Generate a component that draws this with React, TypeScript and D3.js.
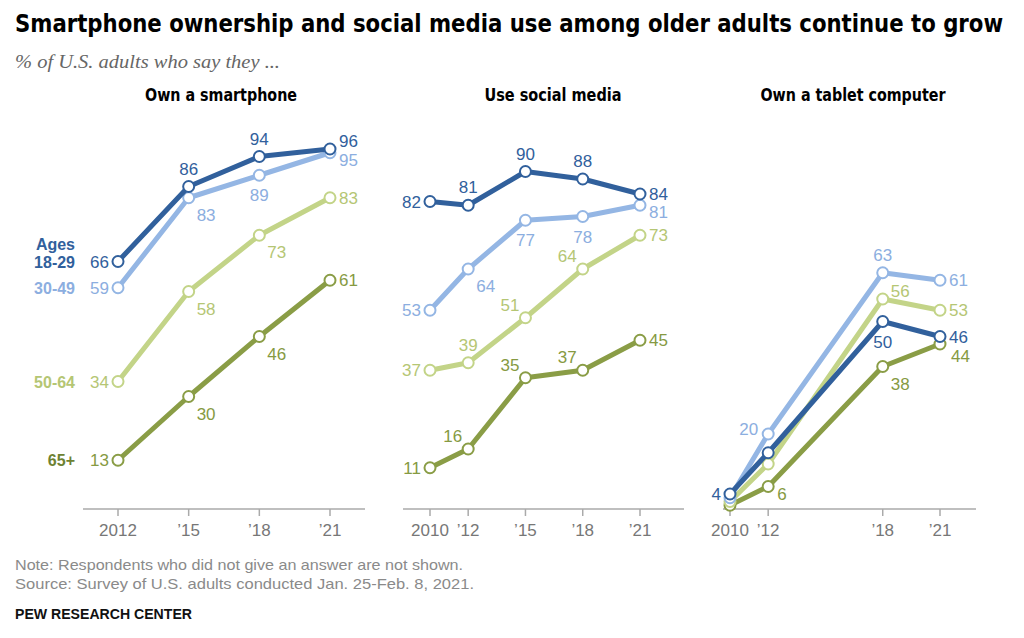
import React from 'react';
import * as d3 from 'd3';

// age groups, drawn bottom-to-top so 18-29 ends up on top
const ages = ['18-29', '30-49', '50-64', '65+'];
const lineColors = ['#31609c', '#94b6e4', '#c3d488', '#8a9d46'];
const labelColors = ['#31609c', '#8caee0', '#b5c674', '#869a42'];
const legendColors = ['#31609c', '#8caee0', '#b5c674', '#6e8233'];

const smartYears = [2012, 2015, 2018, 2021];
const smartValues = [
  [66, 86, 94, 96],
  [59, 83, 89, 95],
  [34, 58, 73, 83],
  [13, 30, 46, 61],
];
const smartLabelPos = [
  ['l', 'a', 'a', 'ru'],
  ['l', 'br', 'b', 'rd'],
  ['l', 'br', 'br', 'r'],
  ['l', 'br', 'br', 'r'],
];

const socialYears = [2010, 2012, 2015, 2018, 2021];
const socialValues = [
  [82, 81, 90, 88, 84],
  [53, 64, 77, 78, 81],
  [37, 39, 51, 64, 73],
  [11, 16, 35, 37, 45],
];
const socialLabelPos = [
  ['l', 'a', 'a', 'a', 'r'],
  ['l', 'br', 'b', 'b', 'rd'],
  ['l', 'a', 'al', 'al', 'r'],
  ['l', 'al', 'al', 'al', 'r'],
];

const tabletYears = [2010, 2012, 2018, 2021];
const tabletValues = [
  [4, 15, 50, 46],
  [3, 20, 63, 61],
  [2, 12, 56, 53],
  [1, 6, 38, 44],
];
const tabletLabelPos = [
  ['l', '', 'b', 'r'],
  ['', 'lu', 'a', 'r'],
  ['', '', 'ar', 'r'],
  ['', 'rd', 'br', 'rb'],
];

const panels = [
  { title: 'Own a smartphone', years: smartYears, values: smartValues, pos: smartLabelPos, x0: 118, x1: 330, axis: [83, 365], titleX: 221, titleW: 152 },
  { title: 'Use social media', years: socialYears, values: socialValues, pos: socialLabelPos, x0: 430, x1: 640, axis: [403, 684], titleX: 553, titleW: 137 },
  { title: 'Own a tablet computer', years: tabletYears, values: tabletValues, pos: tabletLabelPos, x0: 730, x1: 940, axis: [723, 976], titleX: 853, titleW: 185 },
];

const offsets: Record<string, [number, number, string]> = {
  l: [-9, 6, 'end'],
  lu: [-10, 1, 'end'],
  r: [9, 6, 'start'],
  ru: [9, -2, 'start'],
  rd: [9, 13, 'start'],
  rb: [11, 18, 'start'],
  a: [0, -12, 'middle'],
  b: [0, 26, 'middle'],
  br: [8, 23, 'start'],
  al: [-6, -7, 'end'],
  ar: [8, -2, 'start'],
};

const numFont = '"Liberation Sans", Arial, sans-serif';
const condFont = '"Liberation Sans Narrow", "DejaVu Sans Condensed", Arial, sans-serif';
const yearLabel = (y: number, i: number) => (i === 0 ? String(y) : '\u2019' + String(y).slice(2));

const App = () => {
  const width = 1024;
  const height = 638;
  const y = d3.scaleLinear().domain([0, 100]).range([509, 134]);
  const axisY = 509;
  const order = [3, 2, 1, 0];

  return (
    <svg width={width} height={height} style={{ position: 'absolute', left: 0, top: 0, background: '#fff' }}>
      <rect width={width} height={height} fill="#fff" />
      <text x={15} y={32} fontFamily={condFont} fontWeight="bold" fontSize={24} textLength={988} lengthAdjust="spacingAndGlyphs" fill="#000">
        Smartphone ownership and social media use among older adults continue to grow
      </text>
      <text x={15} y={68} fontFamily='"Liberation Serif", Georgia, serif' fontStyle="italic" fontSize={19} fill="#666" textLength={265} lengthAdjust="spacingAndGlyphs">
        % of U.S. adults who say they ...
      </text>

      {panels.map((p, pi) => {
        const x = d3.scaleLinear().domain([p.years[0], p.years[p.years.length - 1]]).range([p.x0, p.x1]);
        const line = d3.line<number>().x((_, i) => x(p.years[i])).y(v => y(v));
        return (
          <g key={pi}>
            <text x={p.titleX} y={101} textAnchor="middle" fontFamily={condFont} fontWeight="bold" fontSize={17} fill="#000" textLength={p.titleW} lengthAdjust="spacingAndGlyphs">
              {p.title}
            </text>
            <line x1={p.axis[0]} x2={p.axis[1]} y1={axisY} y2={axisY} stroke="#aaa" strokeWidth={1.5} />
            {p.years.map((yr, i) => (
              <g key={yr}>
                <line x1={x(yr)} x2={x(yr)} y1={axisY} y2={axisY + 7} stroke="#aaa" strokeWidth={1.5} />
                <text x={x(yr)} y={536} textAnchor="middle" fontFamily={numFont} fontSize={17} fill="#777">
                  {yearLabel(yr, i)}
                </text>
              </g>
            ))}
            {order.map(si => (
              <g key={si}>
                <path d={line(p.values[si]) || ''} fill="none" stroke={lineColors[si]} strokeWidth={5} strokeLinejoin="round" />
                {p.values[si].map((v, i) => (
                  <circle key={i} cx={x(p.years[i])} cy={y(v)} r={5.5} fill="#fff" stroke={lineColors[si]} strokeWidth={2} />
                ))}
              </g>
            ))}
            {order.map(si =>
              p.values[si].map((v, i) => {
                const code = p.pos[si][i];
                if (!code) return null;
                const [dx, dy, anchor] = offsets[code];
                return (
                  <text key={si + '-' + i} x={x(p.years[i]) + dx} y={y(v) + dy} textAnchor={anchor as any} fontFamily={numFont} fontSize={17} fill={labelColors[si]}>
                    {v}
                  </text>
                );
              })
            )}
            {pi === 0 && (
              <g fontFamily={numFont} fontWeight="bold" fontSize={16} textAnchor="end">
                <text x={75} y={y(smartValues[0][0]) - 12} fill={legendColors[0]}>Ages</text>
                {ages.map((a, si) => (
                  <text key={a} x={75} y={y(smartValues[si][0]) + 6} fill={legendColors[si]}>{a}</text>
                ))}
              </g>
            )}
          </g>
        );
      })}

      <text x={15} y={570} fontFamily={numFont} fontSize={15} fill="#8a8a8a" textLength={448} lengthAdjust="spacingAndGlyphs">
        Note: Respondents who did not give an answer are not shown.
      </text>
      <text x={15} y={589} fontFamily={numFont} fontSize={15} fill="#8a8a8a" textLength={459} lengthAdjust="spacingAndGlyphs">
        Source: Survey of U.S. adults conducted Jan. 25-Feb. 8, 2021.
      </text>
      <text x={15} y={619} fontFamily={numFont} fontWeight="bold" fontSize={14} fill="#111" textLength={177} lengthAdjust="spacingAndGlyphs">
        PEW RESEARCH CENTER
      </text>
    </svg>
  );
};

export default App;
